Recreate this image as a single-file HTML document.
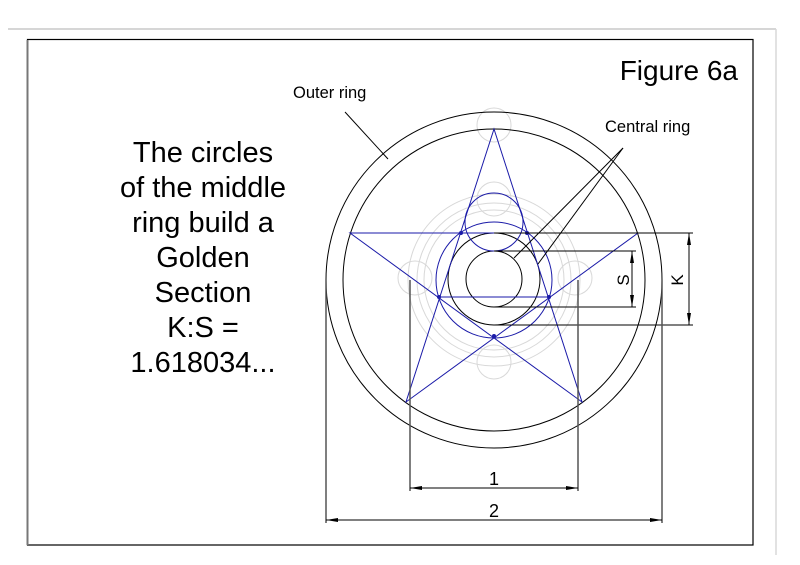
<!DOCTYPE html>
<html><head><meta charset="utf-8"><style>
html,body{margin:0;padding:0;background:#fff;}
svg{display:block;font-family:"Liberation Sans",Arial,sans-serif;}
</style></head><body>
<svg width="800" height="565" viewBox="0 0 800 565" xmlns="http://www.w3.org/2000/svg">
<defs>
<marker id="a" viewBox="0 0 12 4" refX="12" refY="2" markerWidth="12" markerHeight="4" orient="auto" markerUnits="userSpaceOnUse"><path d="M0,0 L12,2 L0,4 Z" fill="#000"/></marker>
</defs>
<line x1="8" y1="29" x2="776" y2="29" stroke="#c8c8c8" stroke-width="1.5"/>
<line x1="776" y1="29" x2="776" y2="555" stroke="#d8d8d8" stroke-width="1.5"/>
<rect x="27.5" y="39.5" width="725.5" height="505.5" fill="none" stroke="#000" stroke-width="1.2"/>
<line x1="27.5" y1="40" x2="27.5" y2="545" stroke="#777" stroke-width="2"/>

<g fill="none" stroke="#d8d8d8" stroke-width="1">
<circle cx="494" cy="280" r="86"/>
<circle cx="494" cy="280" r="77"/>
<circle cx="494" cy="280" r="70"/>
<circle cx="494" cy="125" r="17"/>
<circle cx="494" cy="199" r="17"/>
<circle cx="494" cy="362" r="17"/>
<circle cx="415" cy="278" r="17"/>
<circle cx="575" cy="278" r="17"/>
</g>

<g fill="none" stroke="#000" stroke-width="1">
<circle cx="494" cy="280" r="168"/>
<circle cx="494" cy="280" r="151"/>
<circle cx="494" cy="279" r="46"/>
<circle cx="494" cy="279" r="28"/>
</g>

<g fill="none" stroke="#1a1aa8" stroke-width="1">
<polygon points="494,129 582,402 350,233 638,233 406,402"/>
<line x1="439" y1="297" x2="549" y2="297"/>
<circle cx="494" cy="280" r="58"/>
<circle cx="494" cy="222" r="29"/>
</g>
<g fill="#1a1aa8">
<circle cx="461" cy="233" r="2"/><circle cx="527" cy="233" r="2"/>
<circle cx="439" cy="297" r="2"/><circle cx="549" cy="297" r="2"/>
<circle cx="494" cy="336" r="2"/>
</g>

<g stroke="#000" stroke-width="1" fill="none">
<line x1="494" y1="251" x2="636" y2="251"/>
<line x1="494" y1="307" x2="636" y2="307"/>
<line x1="632" y1="280" x2="632" y2="251" marker-end="url(#a)"/>
<line x1="632" y1="280" x2="632" y2="307" marker-end="url(#a)"/>
<line x1="494" y1="233" x2="693" y2="233"/>
<line x1="494" y1="325" x2="693" y2="325"/>
<line x1="689" y1="280" x2="689" y2="233" marker-end="url(#a)"/>
<line x1="689" y1="280" x2="689" y2="325" marker-end="url(#a)"/>
</g>
<g stroke="#555" stroke-width="1.5">
<line x1="410" y1="280" x2="410" y2="491"/>
<line x1="578" y1="280" x2="578" y2="491"/>
<line x1="326" y1="280" x2="326" y2="523"/>
<line x1="662" y1="280" x2="662" y2="523"/>
</g>
<g stroke="#000" stroke-width="1">
<line x1="494" y1="488" x2="410" y2="488" marker-end="url(#a)"/>
<line x1="494" y1="488" x2="578" y2="488" marker-end="url(#a)"/>
<line x1="494" y1="520" x2="326" y2="520" marker-end="url(#a)"/>
<line x1="494" y1="520" x2="662" y2="520" marker-end="url(#a)"/>
</g>

<g stroke="#000" stroke-width="1">
<line x1="345" y1="112" x2="388" y2="159"/>
<line x1="623" y1="148" x2="514" y2="258"/>
<line x1="623" y1="148" x2="538" y2="264"/>
</g>

<g fill="#000">
<text x="494" y="485" font-size="18" text-anchor="middle">1</text>
<text x="494" y="517" font-size="18" text-anchor="middle">2</text>
<text transform="translate(629,280) rotate(-90)" font-size="17" text-anchor="middle">S</text>
<text transform="translate(683,280) rotate(-90)" font-size="17" text-anchor="middle">K</text>
<text x="293" y="98" font-size="16.5">Outer ring</text>
<text x="605" y="132" font-size="16.5">Central ring</text>
<text x="738" y="80" font-size="28" text-anchor="end">Figure 6a</text>
<g font-size="29" text-anchor="middle">
<text x="203" y="162">The circles</text>
<text x="203" y="197">of the middle</text>
<text x="203" y="232">ring build a</text>
<text x="203" y="267">Golden</text>
<text x="203" y="302">Section</text>
<text x="203" y="337">K:S =</text>
<text x="203" y="372">1.618034...</text>
</g>
</g>
</svg>
</body></html>
